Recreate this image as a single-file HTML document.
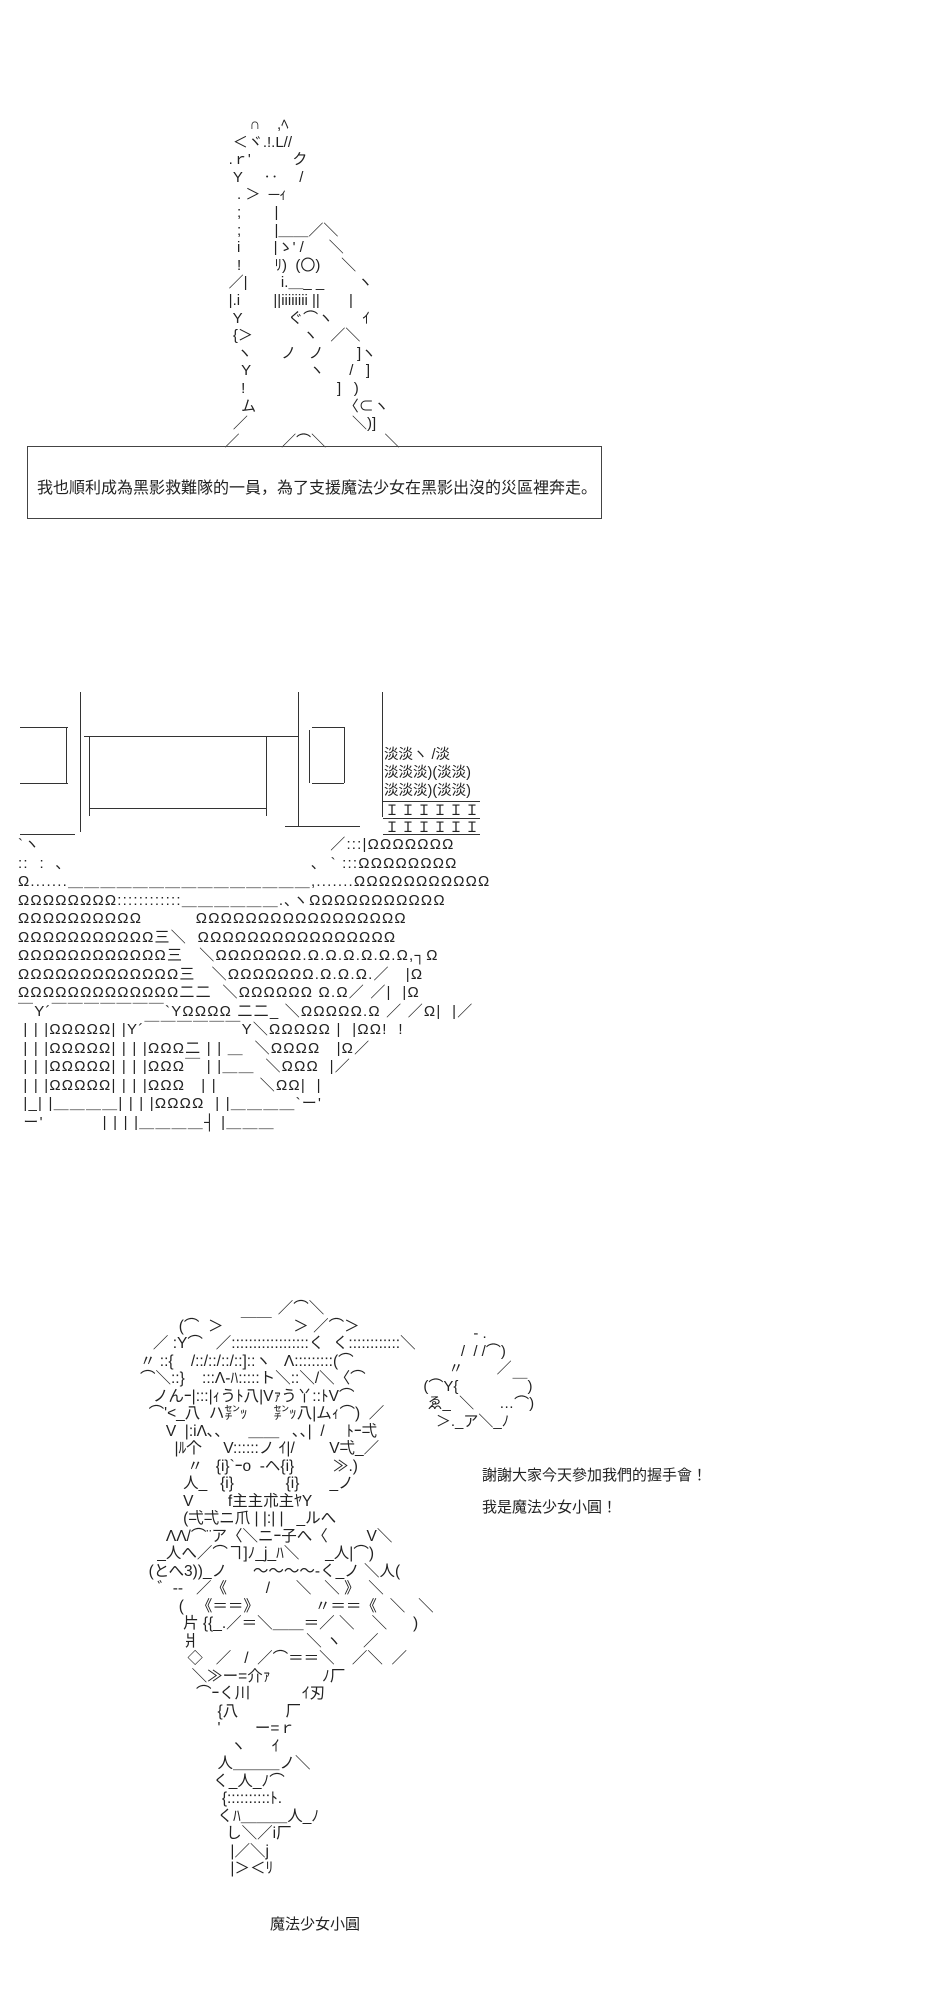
<!DOCTYPE html>
<html><head><meta charset="utf-8">
<style>
html,body{margin:0;padding:0;background:#fff;}
body{width:938px;height:2000px;position:relative;overflow:hidden;color:#222;
font-family:"Liberation Sans","Noto Sans CJK JP",sans-serif;}
pre{margin:0;position:absolute;font-family:"Liberation Sans","Noto Sans CJK JP",sans-serif;white-space:pre;}
.l{position:absolute;background:#333;}
.t{position:absolute;white-space:nowrap;font-size:16px;}
</style></head><body>

<pre style="left:212px;top:116px;font-size:15px;line-height:17.6px;">         ∩    ,ﾍ
     ＜ヾ.!.L//
    .ｒ'          ク
     Y     ‥     /
      . ＞  ─ｨ
      ;        |
      ;        |＿＿／＼
      i        |ゝ' /      ＼
      !        ﾘ)  (〇)     ＼
    ／|        i.＿_ _        ヽ
    |.i        ||iiiiiiii ||       |
     Y           ぐ⌒ヽ       ｲ
     {＞            ヽ   ／＼
      ヽ       ノ   ノ        ]ヽ
       Y              ヽ      /   ]
       !                      ]   )
       ム                     〈⊂ヽ
     ／                         ＼)]
   ／          ／⌒＼              ＼</pre>

<div style="position:absolute;left:27px;top:446px;width:573px;height:71px;border:1px solid #444;"></div>
<div class="t" style="left:37px;top:474px;font-size:16px;">我也順利成為黑影救難隊的一員，為了支援魔法少女在黑影出沒的災區裡奔走。</div>

<!-- section 2 lines -->
<div class="l" style="left:80px;top:692px;width:1px;height:140px;"></div>
<div class="l" style="left:20px;top:727px;width:48px;height:1px;"></div>
<div class="l" style="left:20px;top:783px;width:48px;height:1px;"></div>
<div class="l" style="left:66px;top:727px;width:1px;height:56px;"></div>
<div class="l" style="left:89px;top:736px;width:1px;height:80px;"></div>
<div class="l" style="left:84px;top:736px;width:214px;height:1px;"></div>
<div class="l" style="left:90px;top:808px;width:176px;height:1px;"></div>
<div class="l" style="left:266px;top:736px;width:1px;height:80px;"></div>
<div class="l" style="left:298px;top:692px;width:1px;height:134px;"></div>
<div class="l" style="left:309px;top:730px;width:1px;height:53px;"></div>
<div class="l" style="left:312px;top:727px;width:32px;height:1px;"></div>
<div class="l" style="left:312px;top:783px;width:32px;height:1px;"></div>
<div class="l" style="left:344px;top:727px;width:1px;height:56px;"></div>
<div class="l" style="left:382px;top:692px;width:1px;height:125px;"></div>
<div class="l" style="left:20px;top:834px;width:55px;height:1px;"></div>
<div class="l" style="left:285px;top:826px;width:75px;height:1px;"></div>
<div class="l" style="left:383px;top:801px;width:97px;height:1px;"></div>
<div class="l" style="left:383px;top:818px;width:97px;height:1px;"></div>
<div class="l" style="left:383px;top:834px;width:97px;height:1px;"></div>

<pre style="left:384px;top:746px;font-size:14.5px;line-height:18px;">淡淡ヽ /淡
淡淡淡)(淡淡)
淡淡淡)(淡淡)</pre>
<pre style="left:385px;top:802px;font-size:14px;line-height:17px;letter-spacing:2px;">ＩＩＩＩＩＩ
ＩＩＩＩＩＩ</pre>

<pre style="left:18px;top:836px;font-size:15px;line-height:18.5px;letter-spacing:1.2px;">`ヽ                                                      ／:::|ΩΩΩΩΩΩΩ
::  :  ､                                              ､  ` :::ΩΩΩΩΩΩΩΩ
Ω.......＿＿＿＿＿＿＿＿＿＿＿＿＿＿＿,.......ΩΩΩΩΩΩΩΩΩΩΩ
ΩΩΩΩΩΩΩΩ::::::::::::＿＿＿＿＿＿.､ヽΩΩΩΩΩΩΩΩΩΩΩ
ΩΩΩΩΩΩΩΩΩΩ          ΩΩΩΩΩΩΩΩΩΩΩΩΩΩΩΩΩ
ΩΩΩΩΩΩΩΩΩΩΩ三＼  ΩΩΩΩΩΩΩΩΩΩΩΩΩΩΩΩ
ΩΩΩΩΩΩΩΩΩΩΩΩ三   ＼ΩΩΩΩΩΩΩ.Ω.Ω.Ω.Ω.Ω.Ω,┐Ω
ΩΩΩΩΩΩΩΩΩΩΩΩΩ三   ＼ΩΩΩΩΩΩΩ.Ω.Ω.Ω.／   |Ω
ΩΩΩΩΩΩΩΩΩΩΩΩΩ二二  ＼ΩΩΩΩΩΩ Ω.Ω／ ／|  |Ω
￣Y´￣￣￣￣￣￣￣`YΩΩΩΩ 二二_ ＼ΩΩΩΩΩ.Ω ／ ／Ω|  |／
 | | |ΩΩΩΩΩ| |Y´￣￣￣￣￣￣Y＼ΩΩΩΩΩ |  |ΩΩ!  !
 | | |ΩΩΩΩΩ| | | |ΩΩΩ二 | | ＿  ＼ΩΩΩΩ   |Ω／
 | | |ΩΩΩΩΩ| | | |ΩΩΩ￣ | |＿＿  ＼ΩΩΩ  |／
 | | |ΩΩΩΩΩ| | | |ΩΩΩ   | |        ＼ΩΩ|  |
 |_| |＿＿＿＿| | | |ΩΩΩΩ  | |＿＿＿＿`ー'
 ー'           | | | |＿＿＿＿┤ |＿＿＿</pre>

<!-- section 3 -->
<pre style="left:140px;top:1300px;font-size:15.5px;line-height:17.5px;">                                ／⌒＼
         (⌒  ＞    ￣￣     ＞ ／⌒＞
   ／ :Y⌒   ／::::::::::::::::::く  く::::::::::::＼
〃 ::{    /::/::/::/::]::ヽ   Λ:::::::::(⌒
⌒＼::}    :::Λ-ﾊ:::::ト＼::＼/＼〈⌒
   ノんｰ|:::|ｨうﾄ八|Vｧう丫::ﾄV⌒
  ⌒'<_八  ハ㌢ｯ      ㌢ｯ八|ムｨ⌒)  ／
      V  |:iΛ､､      ＿＿   ､､|  /     ﾄｰ弌
        |ﾙ个     V::::::ノ ｲ|/        V弌_／
           〃   {i}`ｰo  -ヘ{i}         ≫.)
          人_   {i}            {i}       _ノ
          V        f主主朮主ﾔY
          (弌弌ニ爪 | |:| |   _ルへ
      ΛΛ/⌒¨ア〈＼ニｰ子へ〈         V＼
    _人へ／⌒ヿ]ﾉ_j_ﾊ＼      _人|⌒)
  (とへ3))_ノ      ～～～～-く_ノ ＼人(
    ゛-‐   ／《         /      ＼   ＼ 》  ＼
         (   《＝＝》             〃＝＝《   ＼   ＼
          片 {{_.／＝＼＿＿＝／ ＼    ＼      )
          爿                         ＼ ヽ     ／
           ◇   ／   /  ／⌒＝＝＼    ／＼  ／
            ＼≫ー=介ｧ            ﾉ厂
             ⌒ｰく川            ｲ刃
                  {八           厂
                  '        ー=ｒ
                     ヽ      ｲ
                  人＿＿＿ノ＼
                 く_人_ﾉ⌒
                   {::::::::::ﾄ.
                  くﾊ＿＿＿人_ﾉ
                    し＼／i厂
                     |／＼j
                     |＞＜ﾘ</pre>

<pre style="left:415px;top:1325px;font-size:15px;line-height:17.5px;">              ‐ .
           /  / /⌒)
        〃        ／
  (⌒Y{             ￣)
   ゑ_  ＼      …⌒)
     ＞._ア＼_ﾉ</pre>

<div class="t" style="left:482px;top:1464px;font-size:15px;">謝謝大家今天參加我們的握手會！</div>
<div class="t" style="left:482px;top:1496px;font-size:15px;">我是魔法少女小圓！</div>
<div class="t" style="left:270px;top:1913px;font-size:15px;">魔法少女小圓</div>

</body></html>
